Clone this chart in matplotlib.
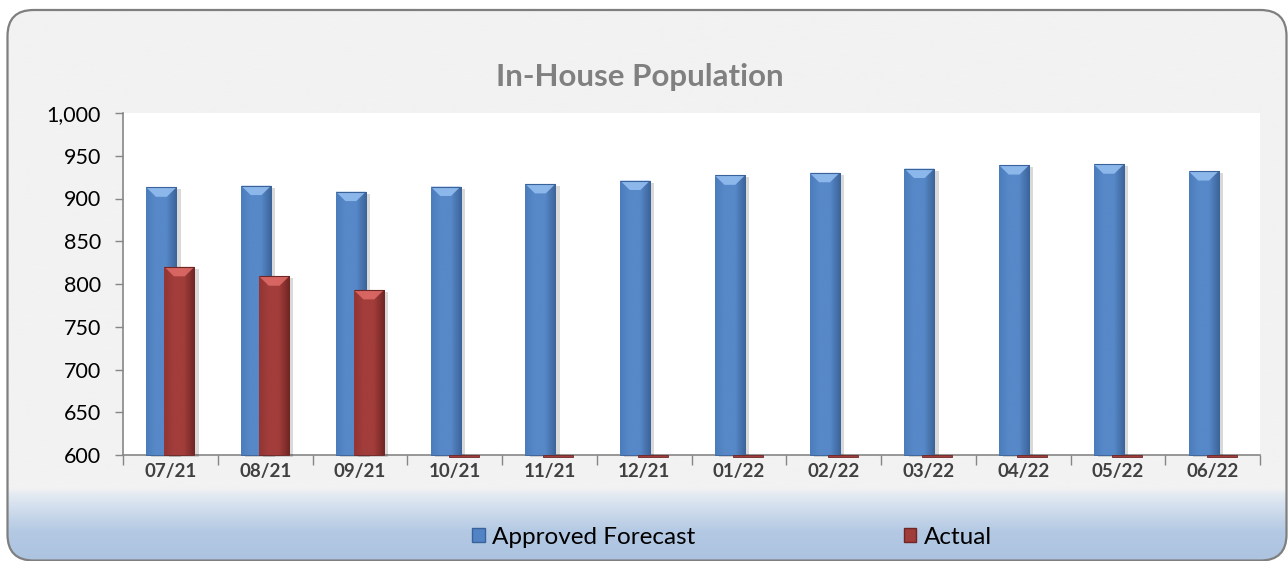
import numpy as np
import matplotlib
matplotlib.use("Agg")
import matplotlib.pyplot as plt
from matplotlib.patches import FancyBboxPatch, Polygon
from matplotlib.ticker import FuncFormatter, FixedLocator
import matplotlib.patheffects as pe

# monthly in-house population, fiscal year 07/21 - 06/22
months = ["07/21", "08/21", "09/21", "10/21", "11/21", "12/21",
          "01/22", "02/22", "03/22", "04/22", "05/22", "06/22"]
forecast = [913, 915, 908, 914, 917, 921, 927, 930, 935, 939, 940, 932]
actual = [820, 809, 793, 0, 0, 0, 0, 0, 0, 0, 0, 0]

Y_MIN, Y_MAX = 600, 1000
W, H = 1288, 561

plt.rcParams["font.family"] = ["Lato", "DejaVu Sans"]

fig = plt.figure(figsize=(W / 100, H / 100), dpi=100)
fig.patch.set_facecolor("white")

# background: rounded panel, light grey fading into blue at the bottom
bg = fig.add_axes([0, 0, 1, 1], zorder=-10)
bg.set_xlim(0, W); bg.set_ylim(H, 0); bg.axis("off")
box = dict(boxstyle="round,pad=0,rounding_size=26")
panel = FancyBboxPatch((7.5, 10), W - 9, H - 10.5, facecolor="#f2f2f2", edgecolor="none", zorder=1, **box)
bg.add_patch(panel)
grad_y = np.linspace(0, H, 400)
stops_y = [0, 489, 496, 533, H]
stops_c = np.array([[242, 242, 242], [242, 242, 242], [226, 233, 242], [178, 200, 227], [173, 196, 225]]) / 255
cols = np.stack([np.interp(grad_y, stops_y, stops_c[:, k]) for k in range(3)], axis=1)
img = bg.imshow(cols[:, None, :], extent=(0, W, H, 0), aspect="auto", zorder=2, interpolation="bilinear")
img.set_clip_path(panel)
bg.add_patch(FancyBboxPatch((7.5, 10), W - 9, H - 10.5, facecolor="none", edgecolor="#7f7f7f",
                            linewidth=1.6, zorder=3, **box))

# plot area
ax = fig.add_axes([123 / W, (H - 455) / H, (1260 - 123) / W, (455 - 113) / H])
ax.set_facecolor("white")

x = np.arange(len(months))
width = 0.317
off = 0.095
shadow = [pe.SimplePatchShadow(offset=(3, -1.5), shadow_rgbFace="#000000", alpha=0.15), pe.Normal()]


def shade(c_left, c_mid, c_right):
    t = np.linspace(0, 1, 64)
    c = np.array([matplotlib.colors.to_rgb(v) for v in (c_left, c_mid, c_mid, c_right)])
    pos = [0, 0.3, 0.65, 1]
    return np.stack([np.interp(t, pos, c[:, k]) for k in range(3)], axis=1)[None, :, :]


def draw_bars(xs, vals, grad, edge, light, stub):
    for xi, v in zip(xs, vals):
        h = v - Y_MIN if v > Y_MIN else stub
        b = ax.bar(xi, h, width, bottom=Y_MIN, color=grad[0, 32], edgecolor=edge, linewidth=0.6,
                   zorder=3, clip_on=False)[0]
        if v <= Y_MIN:
            continue
        b.set_path_effects(shadow)
        x0, x1 = xi - width / 2, xi + width / 2
        im = ax.imshow(grad, extent=(x0, x1, Y_MIN, v), aspect="auto", zorder=4,
                       interpolation="bilinear")
        im.set_clip_path(b)
        # bevelled top cap
        d = 11
        ax.add_patch(Polygon([(x0, v), (x1, v), (xi + width * 0.18, v - d), (xi - width * 0.18, v - d)],
                             closed=True, facecolor=light, edgecolor="none", alpha=0.9, zorder=5))
        ax.add_patch(Polygon([(x0, v), (x1, v)], closed=False, fill=False, edgecolor=edge,
                             linewidth=0.8, zorder=6))


blue = shade("#4b7cbc", "#5788c8", "#3b6399")
red = shade("#923533", "#a23d3b", "#6f2624")
draw_bars(x - off, forecast, blue, "#3a629a", "#93bdf0", 0)
draw_bars(x + off, actual, red, "#6e2725", "#dd6a66", -2)

ax.set_xlim(-0.5, len(months) - 0.5)
ax.set_ylim(Y_MIN, Y_MAX)
ax.yaxis.set_major_locator(FixedLocator(np.arange(Y_MIN, Y_MAX + 1, 50)))
ax.yaxis.set_major_formatter(FuncFormatter(lambda v, _: f"{int(v):,}"))
ax.tick_params(axis="y", length=6, width=1, color="#868686", labelsize=15.5, labelcolor="black", pad=10)

ax.xaxis.set_major_locator(FixedLocator(np.arange(-0.5, len(months), 1.0)))
ax.xaxis.set_major_formatter(plt.NullFormatter())
ax.xaxis.set_minor_locator(FixedLocator(x))
ax.set_xticklabels(months, minor=True)
ax.tick_params(axis="x", which="major", length=7, width=1, color="#868686")
ax.tick_params(axis="x", which="minor", length=0, labelsize=13.5, labelcolor="#404040", pad=6)
for lbl in ax.get_xticklabels(minor=True):
    lbl.set_fontweight("bold")

for side in ("top", "right"):
    ax.spines[side].set_visible(False)
for side in ("left", "bottom"):
    ax.spines[side].set_color("#868686")
    ax.spines[side].set_linewidth(1.2)

fig.text(640 / W, 1 - 77 / H, "In-House Population", ha="center", va="center",
         fontsize=22.5, fontweight="bold", color="#808080")

handles = [plt.Rectangle((0, 0), 1, 1, facecolor="#5283c4", edgecolor="#3a629a"),
           plt.Rectangle((0, 0), 1, 1, facecolor="#a03c3a", edgecolor="#6e2725")]
fig.legend(handles, ["Approved Forecast", "Actual"], loc="center", bbox_to_anchor=(732 / W, 1 - 537 / H),
           ncol=2, frameon=False, fontsize=17.5, handlelength=0.5, handleheight=0.5, handletextpad=0.3,
           columnspacing=8.6)

fig.savefig("out.png", dpi=100)
